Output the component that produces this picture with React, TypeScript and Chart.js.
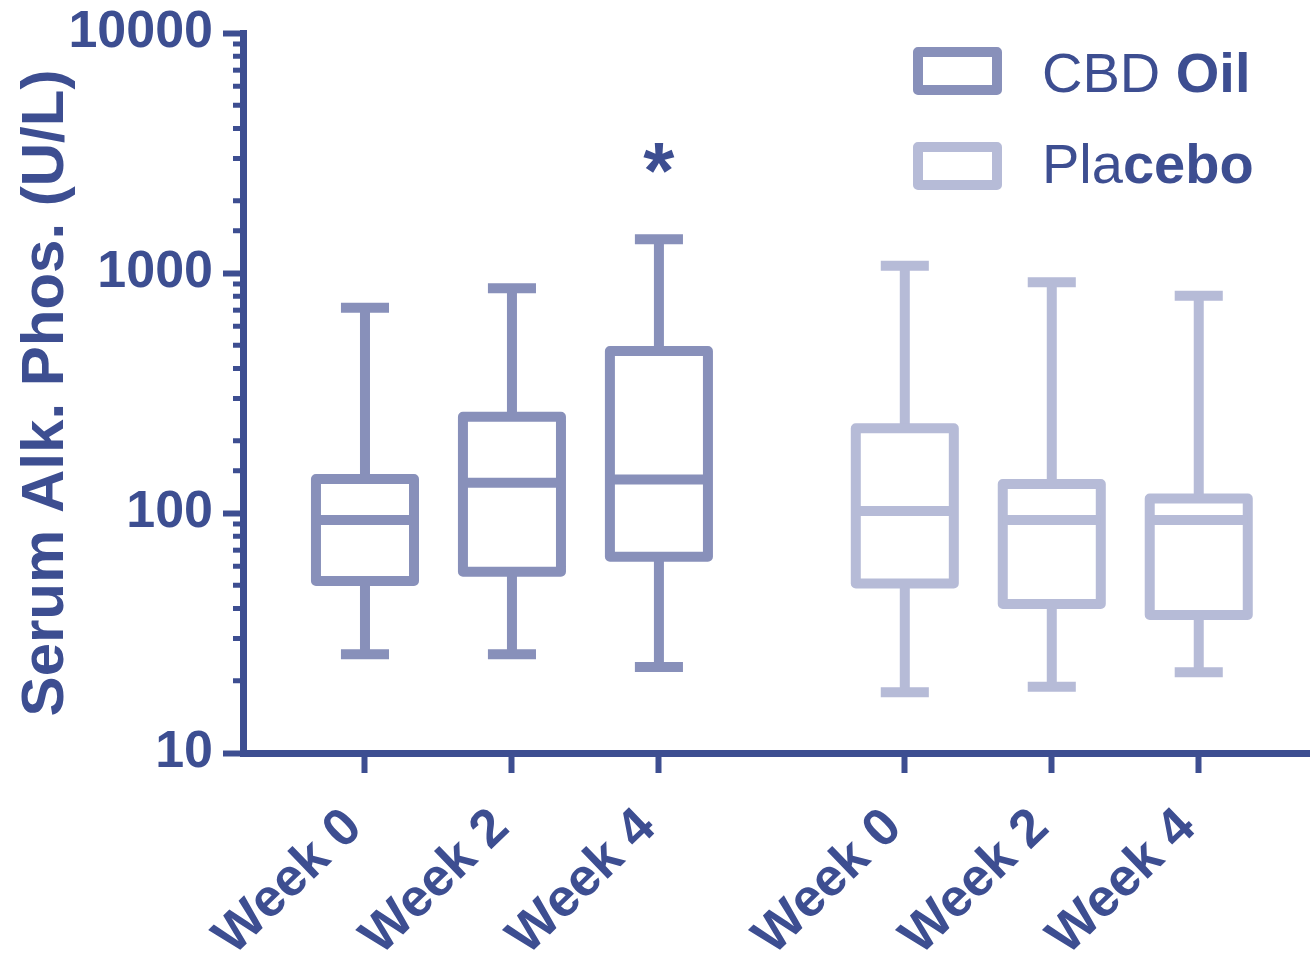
import React, { useEffect, useRef } from 'react';
import { Chart, registerables } from 'chart.js';

Chart.register(...registerables);

// ---------- data ----------
const weekLabels = ['Week 0', 'Week 2', 'Week 4'];
const groupNames = ['CBD Oil', 'Placebo'];

const cbdMin = [25.8, 25.8, 22.8];
const cbdQ1 = [52.1, 56.9, 65.8];
const cbdMedian = [93.5, 133.7, 138];
const cbdQ3 = [138.6, 251.8, 473];
const cbdMax = [717, 864, 1381];
const cbdSignificance = ['', '', '*'];

const placeboMin = [17.9, 18.9, 21.7];
const placeboQ1 = [50.9, 41.8, 37.6];
const placeboMedian = [101.9, 93.5, 93.5];
const placeboQ3 = [225.3, 132, 115];
const placeboMax = [1072, 914, 804];
const placeboSignificance = ['', '', ''];

const yTickValues = [10, 100, 1000, 10000];
const legendParts = [
  ['CBD ', 'Oil'],
  ['Pla', 'cebo'],
];

// ---------- style / layout ----------
const AXIS_COLOR = '#3d4e91';
const GROUP_COLORS = ['#8890ba', '#b6bbd7'];
const FONT = "'Liberation Sans', Arial, Helvetica, sans-serif";
const GROUP_GAP = 3.673; // x units between groups
const BOX_WIDTH = 0.667; // x units (stroke centre to stroke centre)
const CAP_WIDTH = 0.327;
const X_MIN = 0.17;
const X_MAX = 7.43;

const groups = [
  { min: cbdMin, q1: cbdQ1, med: cbdMedian, q3: cbdQ3, max: cbdMax, sig: cbdSignificance },
  { min: placeboMin, q1: placeboQ1, med: placeboMedian, q3: placeboQ3, max: placeboMax, sig: placeboSignificance },
];

const positions: number[] = [];
const xTickLabels: string[] = [];
groups.forEach((_, gi) =>
  weekLabels.forEach((w, wi) => {
    positions.push(1 + gi * GROUP_GAP + wi);
    xTickLabels.push(w);
  })
);

const isPow10 = (v: number) => Math.abs(Math.log10(v) - Math.round(Math.log10(v))) < 1e-9;

const boxPlugin = {
  id: 'boxplots',
  afterDatasetsDraw(chart: any) {
    const { ctx, scales } = chart;
    const x = scales.x;
    const y = scales.y;
    ctx.save();
    groups.forEach((g, gi) => {
      weekLabels.forEach((_, wi) => {
        const pos = 1 + gi * GROUP_GAP + wi;
        const cx = x.getPixelForValue(pos);
        const hb = x.getPixelForValue(pos + BOX_WIDTH / 2) - cx;
        const hc = x.getPixelForValue(pos + CAP_WIDTH / 2) - cx;
        const yMin = y.getPixelForValue(g.min[wi]);
        const yQ1 = y.getPixelForValue(g.q1[wi]);
        const yMed = y.getPixelForValue(g.med[wi]);
        const yQ3 = y.getPixelForValue(g.q3[wi]);
        const yMax = y.getPixelForValue(g.max[wi]);
        ctx.strokeStyle = GROUP_COLORS[gi];
        ctx.lineWidth = 10;
        ctx.lineCap = 'butt';
        ctx.lineJoin = 'round';
        ctx.beginPath();
        ctx.moveTo(cx, yMax);
        ctx.lineTo(cx, yQ3);
        ctx.moveTo(cx, yQ1);
        ctx.lineTo(cx, yMin);
        ctx.moveTo(cx - hc, yMax);
        ctx.lineTo(cx + hc, yMax);
        ctx.moveTo(cx - hc, yMin);
        ctx.lineTo(cx + hc, yMin);
        ctx.stroke();
        ctx.fillStyle = '#ffffff';
        ctx.fillRect(cx - hb, yQ3, hb * 2, yQ1 - yQ3);
        ctx.beginPath();
        ctx.rect(cx - hb, yQ3, hb * 2, yQ1 - yQ3);
        ctx.stroke();
        ctx.beginPath();
        ctx.moveTo(cx - hb, yMed);
        ctx.lineTo(cx + hb, yMed);
        ctx.stroke();
        if (g.sig[wi]) {
          ctx.fillStyle = AXIS_COLOR;
          ctx.font = `bold 80px ${FONT}`;
          ctx.textAlign = 'center';
          ctx.textBaseline = 'alphabetic';
          ctx.fillText(g.sig[wi], cx, yMax - 41);
        }
      });
    });
    ctx.restore();
  },
};

const minorTickPlugin = {
  id: 'minorTicks',
  afterDraw(chart: any) {
    const { ctx, scales, chartArea } = chart;
    const y = scales.y;
    ctx.save();
    ctx.strokeStyle = AXIS_COLOR;
    ctx.lineWidth = 5;
    y.ticks.forEach((t: any) => {
      if (isPow10(t.value)) return;
      const py = y.getPixelForValue(t.value);
      ctx.beginPath();
      ctx.moveTo(chartArea.left - 10, py);
      ctx.lineTo(chartArea.left, py);
      ctx.stroke();
    });
    ctx.restore();
  },
};

const legendPlugin = {
  id: 'customLegend',
  afterDraw(chart: any) {
    const { ctx } = chart;
    ctx.save();
    legendParts.forEach((parts, i) => {
      const top = 52 + i * 95;
      ctx.strokeStyle = GROUP_COLORS[i];
      ctx.lineWidth = 10;
      ctx.lineJoin = 'round';
      ctx.strokeRect(918, top, 79, 38);
      const baseline = 92 + i * 91;
      let tx = 1042;
      ctx.fillStyle = AXIS_COLOR;
      ctx.textAlign = 'left';
      ctx.textBaseline = 'alphabetic';
      ctx.font = `56px ${FONT}`;
      ctx.fillText(parts[0], tx, baseline);
      tx += ctx.measureText(parts[0]).width;
      ctx.font = `bold 56px ${FONT}`;
      ctx.fillText(parts[1], tx, baseline);
    });
    ctx.restore();
  },
};

export default function App() {
  const ref = useRef<HTMLCanvasElement>(null);
  useEffect(() => {
    const chart = new Chart(ref.current as HTMLCanvasElement, {
      type: 'scatter',
      data: {
        datasets: groups.map((g, gi) => ({
          label: groupNames[gi],
          data: weekLabels.map((_, wi) => ({ x: 1 + gi * GROUP_GAP + wi, y: g.med[wi] })),
          pointRadius: 0,
          showLine: false,
          borderColor: GROUP_COLORS[gi],
          backgroundColor: GROUP_COLORS[gi],
        })),
      },
      options: {
        responsive: false,
        animation: false,
        events: [],
        layout: { padding: { top: 33, left: 0, right: 0, bottom: 0 } },
        plugins: { legend: { display: false }, tooltip: { enabled: false } },
        scales: {
          x: {
            type: 'linear',
            min: X_MIN,
            max: X_MAX,
            afterBuildTicks: (s: any) => {
              s.ticks = positions.map((v) => ({ value: v }));
            },
            afterFit: (s: any) => {
              s.height = 201;
            },
            ticks: {
              autoSkip: false,
              minRotation: 44,
              maxRotation: 44,
              padding: 35,
              labelOffset: -11,
              color: AXIS_COLOR,
              font: { family: FONT, size: 53, weight: 'bold', lineHeight: 0.6 },
              callback: (_v: any, i: number) => xTickLabels[i],
            },
            grid: {
              drawOnChartArea: false,
              drawTicks: true,
              tickLength: 20,
              tickWidth: 6,
              tickColor: AXIS_COLOR,
            },
            border: { display: true, color: AXIS_COLOR, width: 7 },
          },
          y: {
            type: 'logarithmic',
            position: 'left',
            min: 10,
            max: 10000,
            afterFit: (s: any) => {
              s.width = 243;
            },
            ticks: {
              autoSkip: false,
              padding: 10,
              color: AXIS_COLOR,
              font: { family: FONT, size: 52, weight: 'bold', lineHeight: 0.8 },
              callback: (v: any) => (yTickValues.includes(Number(v)) ? String(v) : ''),
            },
            grid: {
              drawOnChartArea: false,
              drawTicks: true,
              tickLength: 20,
              tickWidth: 6,
              tickColor: (c: any) => (c.tick && isPow10(c.tick.value) ? AXIS_COLOR : 'rgba(0,0,0,0)'),
            },
            border: { display: true, color: AXIS_COLOR, width: 7 },
            title: {
              display: true,
              text: 'Serum Alk. Phos. (U/L)',
              color: AXIS_COLOR,
              font: { family: FONT, size: 60, weight: 'bold' },
              padding: { top: 10, bottom: 0 },
            },
          },
        },
      } as any,
      plugins: [boxPlugin, minorTickPlugin, legendPlugin],
    });
    return () => chart.destroy();
  }, []);
  return (
    <div style={{ position: 'absolute', left: 0, top: 0, width: 1310, height: 954, background: '#ffffff' }}>
      <canvas ref={ref} width={1310} height={954} style={{ width: 1310, height: 954, display: 'block' }} />
    </div>
  );
}
